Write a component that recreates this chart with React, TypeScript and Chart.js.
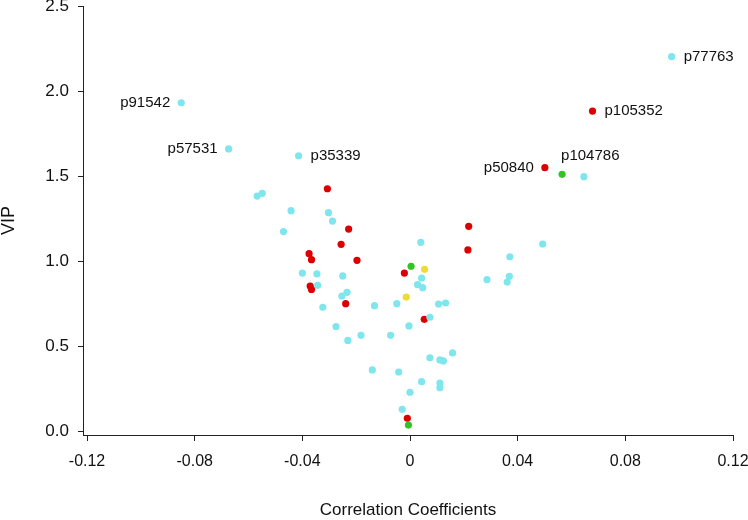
import React, { useEffect, useRef } from "react";
import { Chart, registerables } from "chart.js";

Chart.register(...registerables);

// Data: [correlation coefficient, VIP]
const cyanX = [0.0972, 0.0646, 0.0493, 0.0371, -0.085, -0.0674, -0.0414, -0.0568, -0.0549, -0.0442, -0.0303, -0.0288, -0.047, -0.04, -0.0346, -0.025, -0.0343, -0.0253, -0.0234, -0.0324, -0.0132, -0.0049, -0.0275, -0.0182, -0.0231, -0.0072, -0.014, -0.0042, -0.0029, 0.004, 0.0043, 0.0028, 0.0047, 0.0286, 0.0369, 0.0361, 0.0106, 0.0132, 0.0074, -0.0004, 0.0074, 0.0111, 0.0124, 0.0158, 0.0043, 0.0111, 0.0111, 0.0];
const cyanY = [2.202, 1.496, 1.1, 1.025, 1.931, 1.659, 1.619, 1.382, 1.398, 1.296, 1.284, 1.235, 1.173, 0.929, 0.924, 0.912, 0.857, 0.794, 0.816, 0.728, 0.737, 0.749, 0.614, 0.563, 0.533, 0.563, 0.359, 0.347, 0.128, 1.11, 0.9, 0.861, 0.843, 0.89, 0.91, 0.876, 0.747, 0.753, 0.669, 0.618, 0.431, 0.418, 0.412, 0.459, 0.29, 0.282, 0.255, 0.228];
const cyanLabels = ["p77763", "", "", "", "p91542", "p57531", "p35339"];

const redX = [0.0678, 0.0501, 0.0218, 0.0215, -0.0307, -0.0228, -0.0256, -0.0375, -0.0366, -0.0197, -0.0371, -0.0366, -0.0239, -0.0021, 0.0053, -0.001];
const redY = [1.882, 1.549, 1.204, 1.065, 1.425, 1.188, 1.098, 1.043, 1.008, 1.004, 0.853, 0.833, 0.749, 0.929, 0.657, 0.075];
const redLabels = ["p105352", "p50840"];

const greenX = [0.0565, 0.0004, -0.0006];
const greenY = [1.51, 0.969, 0.035];
const greenLabels = ["p104786"];

const yellowX = [0.0054, -0.0014];
const yellowY = [0.951, 0.788];

const xTicks = [-0.12, -0.08, -0.04, 0, 0.04, 0.08, 0.12];
const xTickLabels = ["-0.12", "-0.08", "-0.04", "0", "0.04", "0.08", "0.12"];
const yTicks = [0, 0.5, 1, 1.5, 2, 2.5];
const yTickLabels = ["0.0", "0.5", "1.0", "1.5", "2.0", "2.5"];

// label placement: side of point
const labelPlacement: Record<string, string> = {
  p77763: "right",
  p91542: "left",
  p57531: "left",
  p35339: "right",
  p105352: "right",
  p50840: "left",
  p104786: "above",
};

const FONT = "'Liberation Sans', Arial, Helvetica, sans-serif";

function pts(xs: number[], ys: number[]) {
  return xs.map((x, i) => ({ x, y: ys[i] }));
}

const labelPlugin = {
  id: "pointLabels",
  afterDatasetsDraw(chart: any) {
    const ctx = chart.ctx;
    ctx.save();
    ctx.font = `15px ${FONT}`;
    ctx.fillStyle = "#111";
    ctx.textBaseline = "middle";
    chart.data.datasets.forEach((ds: any, di: number) => {
      const meta = chart.getDatasetMeta(di);
      const labels: string[] = ds.pointLabels || [];
      labels.forEach((lab, i) => {
        if (!lab) return;
        const el = meta.data[i];
        if (!el) return;
        const p = labelPlacement[lab] || "right";
        if (p === "right") {
          ctx.textAlign = "left";
          ctx.fillText(lab, el.x + 12, el.y);
        } else if (p === "left") {
          ctx.textAlign = "right";
          ctx.fillText(lab, el.x - 11, el.y);
        } else {
          ctx.textAlign = "left";
          ctx.fillText(lab, el.x - 1, el.y - 18);
        }
      });
    });
    ctx.restore();
  },
};

export default function App() {
  const ref = useRef<HTMLCanvasElement | null>(null);

  useEffect(() => {
    document.body.style.margin = "0";
    if (!ref.current) return;
    const mk = (label: string, xs: number[], ys: number[], color: string, labels: string[]) => ({
      label,
      data: pts(xs, ys),
      backgroundColor: color,
      borderColor: color,
      borderWidth: 0,
      pointRadius: 3.6,
      pointHoverRadius: 3.6,
      pointLabels: labels,
    });
    const chart = new Chart(ref.current, {
      type: "scatter",
      data: {
        datasets: [
          mk("cyan", cyanX, cyanY, "#80e6ee", cyanLabels),
          mk("red", redX, redY, "#dd0000", redLabels),
          mk("green", greenX, greenY, "#33c422", greenLabels),
          mk("yellow", yellowX, yellowY, "#f0dc30", []),
        ] as any,
      },
      options: {
        animation: false,
        responsive: false,
        devicePixelRatio: 1,
        layout: { padding: { top: 6, right: 15, bottom: 0, left: 0 } },
        plugins: {
          legend: { display: false },
          tooltip: { enabled: false },
        },
        scales: {
          x: {
            type: "linear",
            min: -0.1215,
            max: 0.12,
            afterBuildTicks: (s: any) => {
              s.ticks = xTicks.map((v) => ({ value: v }));
            },
            afterFit: (s: any) => {
              s.height = 85;
              s.paddingLeft = 0;
              s.paddingRight = 0;
            },
            grid: {
              display: true,
              drawOnChartArea: false,
              drawTicks: true,
              tickLength: 6,
              color: "#222",
            },
            border: { display: true, color: "#222", width: 1 },
            ticks: {
              autoSkip: false,
              maxRotation: 0,
              padding: 11,
              color: "#111",
              font: { family: FONT, size: 16 },
              callback: (v: any) => {
                const i = xTicks.findIndex((t) => Math.abs(t - v) < 1e-9);
                return i >= 0 ? xTickLabels[i] : "";
              },
            },
            title: {
              display: true,
              text: "Correlation Coefficients",
              color: "#111",
              font: { family: FONT, size: 17, lineHeight: 1 },
              padding: { top: 0, bottom: 1 },
            },
          },
          y: {
            type: "linear",
            min: -0.0235,
            max: 2.5,
            afterBuildTicks: (s: any) => {
              s.ticks = yTicks.map((v) => ({ value: v }));
            },
            afterFit: (s: any) => {
              s.width = 83;
              s.paddingTop = 0;
              s.paddingBottom = 0;
            },
            grid: {
              display: true,
              drawOnChartArea: false,
              drawTicks: true,
              tickLength: 5,
              color: "#222",
            },
            border: { display: true, color: "#222", width: 1 },
            ticks: {
              autoSkip: false,
              padding: 9,
              color: "#111",
              font: { family: FONT, size: 17 },
              callback: (v: any) => {
                const i = yTicks.findIndex((t) => Math.abs(t - v) < 1e-9);
                return i >= 0 ? yTickLabels[i] : "";
              },
            },
            title: {
              display: true,
              text: "VIP",
              color: "#111",
              font: { family: FONT, size: 18, lineHeight: 1 },
              padding: { top: 0, bottom: 0 },
            },
          },
        },
      } as any,
      plugins: [labelPlugin],
    });
    return () => chart.destroy();
  }, []);

  return (
    <div style={{ width: 748, height: 520, background: "#fff" }}>
      <canvas ref={ref} width={748} height={520} style={{ display: "block" }} />
    </div>
  );
}
